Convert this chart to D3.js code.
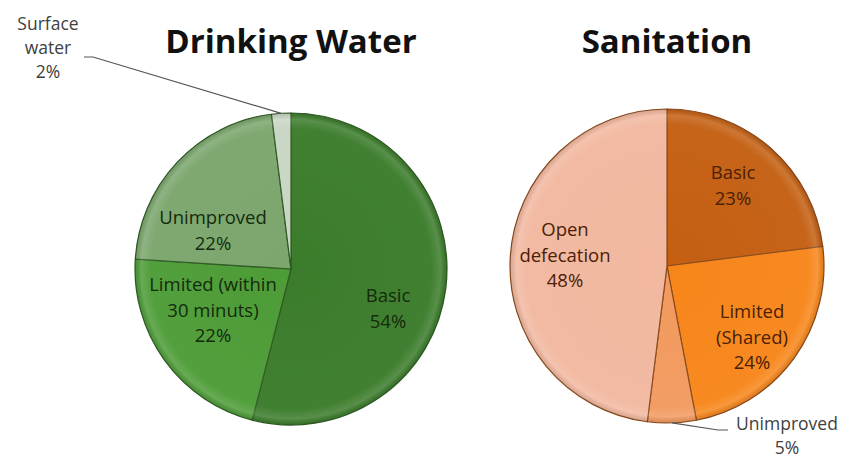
<!DOCTYPE html>
<html lang="en">
<head>
  <meta charset="UTF-8">
  <title>Drinking Water and Sanitation</title>
  <style>
    body {
      margin: 0;
      padding: 0;
      background: #fff;
      font-family: "Open Sans", Arial, sans-serif;
    }
    .title {
      font-weight: bold;
      font-size: 33px;
      fill: #111;
      text-anchor: middle;
    }
    .slice-label {
      font-size: 18.5px;
      text-anchor: middle;
    }
    .out-label {
      font-size: 17.5px;
      fill: #404040;
      text-anchor: middle;
    }
  </style>
</head>
<body>
  <svg id="chart" width="853" height="459"></svg>

  <script src="https://d3js.org/d3.v7.min.js"></script>
  <script>
    // drinking water
    const waterCats = ['Basic', 'Limited (within|30 minuts)', 'Unimproved', 'Surface|water'];
    const waterVals = [54, 22, 22, 2];
    const waterColors = ['#3b7c2b', '#4d9c37', '#7ba66d', '#c9d6c4'];

    // sanitation
    const sanCats = ['Basic', 'Limited|(Shared)', 'Unimproved', 'Open|defecation'];
    const sanVals = [23, 24, 5, 48];
    const sanColors = ['#c45f12', '#f7861a', '#f29a5f', '#f2b8a0'];

    const svg = d3.select('#chart');
    const defs = svg.append('defs');

    function drawPie(cfg) {
      const data = cfg.cats.map((c, i) => ({ name: c, value: cfg.vals[i], color: cfg.colors[i] }));
      const pie = d3.pie().sort(null).value(d => d.value);
      const arc = d3.arc().innerRadius(0).outerRadius(cfg.r);
      const arcs = pie(data);

      // soft bevel at the rim, one gradient for the whole pie
      const gid = 'shine-' + cfg.id;
      const shine = defs.append('radialGradient')
        .attr('id', gid)
        .attr('gradientUnits', 'userSpaceOnUse')
        .attr('cx', 0).attr('cy', 0).attr('r', cfg.r);
      shine.append('stop').attr('offset', '0%').attr('stop-color', '#fff').attr('stop-opacity', 0);
      shine.append('stop').attr('offset', '90%').attr('stop-color', '#fff').attr('stop-opacity', 0.03);
      shine.append('stop').attr('offset', '96%').attr('stop-color', '#fff').attr('stop-opacity', 0.15);
      shine.append('stop').attr('offset', '100%').attr('stop-color', '#000').attr('stop-opacity', 0.1);

      const g = svg.append('g').attr('transform', `translate(${cfg.cx},${cfg.cy})`);

      g.selectAll('path.slice')
        .data(arcs)
        .enter()
        .append('path')
        .attr('class', 'slice')
        .attr('d', arc)
        .attr('fill', d => d.data.color)
        .attr('stroke', cfg.edge)
        .attr('stroke-width', 1.2)
        .attr('stroke-linejoin', 'round');

      g.selectAll('path.shade')
        .data(arcs)
        .enter()
        .append('path')
        .attr('class', 'shade')
        .attr('d', arc)
        .attr('fill', `url(#${gid})`)
        .attr('pointer-events', 'none');

      svg.append('text')
        .attr('class', 'title')
        .attr('x', cfg.cx)
        .attr('y', 53)
        .text(cfg.title);

      // labels
      arcs.forEach((d, i) => {
        const pos = cfg.labelPos[i];
        if (!pos) return;
        const lines = d.data.name.split('|').concat([d.data.value + '%']);
        const step = pos.outside ? 24 : 25.5;
        const t = svg.append('text')
          .attr('class', pos.outside ? 'out-label' : 'slice-label')
          .attr('fill', pos.outside ? '#404040' : cfg.textColor);
        lines.forEach((ln, k) => {
          t.append('tspan')
            .attr('x', pos.x)
            .attr('y', pos.y + k * step)
            .text(ln);
        });
        if (pos.leader) {
          const mid = (d.startAngle + d.endAngle) / 2;
          const ex = cfg.cx + Math.sin(mid) * cfg.r;
          const ey = cfg.cy - Math.cos(mid) * cfg.r;
          svg.append('path')
            .attr('d', d3.line()([[pos.leader[0], pos.leader[1]], [pos.leader[2], pos.leader[3]], [ex, ey]]))
            .attr('fill', 'none')
            .attr('stroke', '#555')
            .attr('stroke-width', 1.2);
        }
      });
    }

    drawPie({
      id: 'water',
      title: 'Drinking Water',
      cats: waterCats, vals: waterVals, colors: waterColors,
      cx: 291, cy: 269, r: 156,
      edge: '#2f5a24',
      textColor: '#142b0c',
      labelPos: [
        { x: 388, y: 302 },
        { x: 213, y: 291 },
        { x: 213, y: 224 },
        { x: 48, y: 30, outside: true, leader: [84, 57, 93, 57] }
      ]
    });

    drawPie({
      id: 'san',
      title: 'Sanitation',
      cats: sanCats, vals: sanVals, colors: sanColors,
      cx: 667, cy: 266, r: 157,
      edge: '#8a4a1c',
      textColor: '#4a2006',
      labelPos: [
        { x: 733, y: 179 },
        { x: 752, y: 318 },
        { x: 787, y: 430, outside: true, leader: [728, 430, 718, 430] },
        { x: 565, y: 236 }
      ]
    });
  </script>
</body>
</html>
